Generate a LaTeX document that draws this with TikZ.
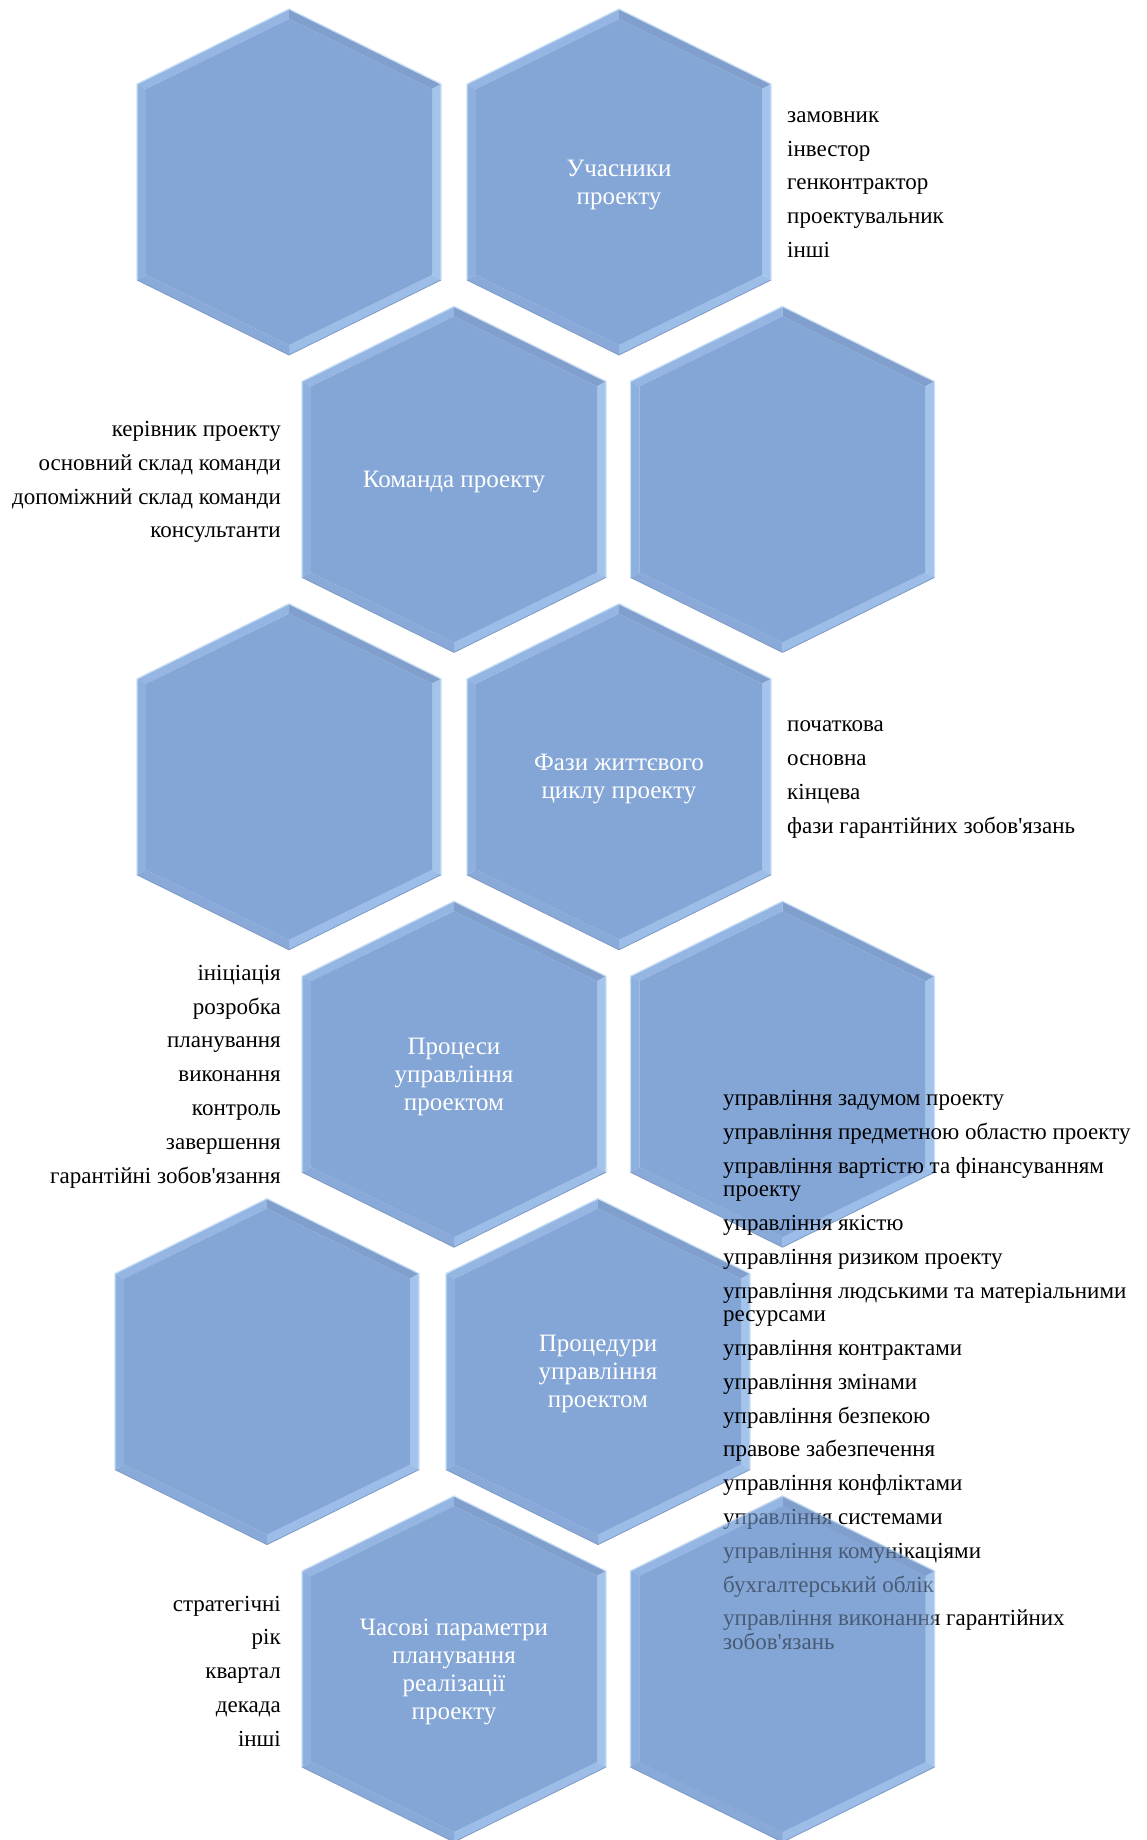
\documentclass[tikz,border=0pt]{standalone}
\usepackage{fontspec}
\setmainfont{Liberation Serif}[Ligatures=TeXOff]
\definecolor{hexbody}{HTML}{84A6D6}
\definecolor{bevA}{HTML}{95B6E2}
\definecolor{bevB}{HTML}{819FCD}
\definecolor{bevC}{HTML}{A4C4EC}
\definecolor{bevD}{HTML}{9BBDE8}
\definecolor{bevE}{HTML}{89AAD9}
\definecolor{bevF}{HTML}{8EB0DE}
\definecolor{rimlight}{HTML}{C9DFF5}
\definecolor{rimdark}{HTML}{7F99C2}
\newcommand\hexcell[3][]{%
  \begin{scope}[shift={(#2,#3)},#1]
    \fill[bevA] (0,-173) -- (-152,-98) -- (-143,-93) -- (0,-163) -- cycle;
    \fill[bevB] (0,-173) -- (152,-98) -- (143,-93) -- (0,-163) -- cycle;
    \fill[bevC] (152,-98) -- (152,98) -- (143,93) -- (143,-93) -- cycle;
    \fill[bevD] (152,98) -- (0,173) -- (0,163) -- (143,93) -- cycle;
    \fill[bevE] (0,173) -- (-152,98) -- (-143,93) -- (0,163) -- cycle;
    \fill[bevF] (-152,98) -- (-152,-98) -- (-143,-93) -- (-143,93) -- cycle;
    \fill[hexbody] (0,-163) -- (143,-93) -- (143,93) -- (0,163) -- (-143,93) -- (-143,-93) -- cycle;
    \draw[rimlight,line width=1.2pt,line join=round] (-152,98) -- (-152,-98) -- (0,-173) -- (152,-98) -- (152,98);
    \draw[rimdark,line width=0.8pt,line join=round] (-152,98) -- (0,173) -- (152,98);
  \end{scope}}
\begin{document}
\begin{tikzpicture}[x=1pt,y=-1pt,
  hextitle/.style={text=white,align=center,font=\fontsize{25}{28}\selectfont,inner sep=0pt},
  listright/.style={anchor=west,align=left,font=\fontsize{23}{33.8}\selectfont,inner sep=0pt},
  listleft/.style={anchor=east,align=right,font=\fontsize{23}{33.8}\selectfont,inner sep=0pt},
  biglist/.style={anchor=west,align=left,font=\fontsize{23}{23.5}\selectfont,inner sep=0pt}]
\useasboundingbox (0,0) rectangle (1147,1840);
\fill[white] (0,0) rectangle (1147,1840);

% row 1
\hexcell{289}{182}
\hexcell{619}{182}
\node[hextitle] (tB) at (619,185) {Учасники\\проекту};
\node[listright] (lB) at (787,184.5) {замовник\\інвестор\\генконтрактор\\проектувальник\\інші};

% row 2
\hexcell{454}{479.4}
\hexcell{782.5}{479.4}
\node[hextitle] (tC) at (454,482) {Команда проекту};
\node[listleft] (lC) at (281,482) {керівник проекту\\основний склад команди\\допоміжний склад команди\\консультанти};

% row 3
\hexcell{289}{776.8}
\hexcell{619}{776.8}
\node[hextitle] (tF) at (619,779.5) {Фази життєвого\\циклу проекту};
\node[listright] (lF) at (787,779.5) {початкова\\основна\\кінцева\\фази гарантійних зобов'язань};

% row 4
\hexcell{454}{1074.2}
\hexcell{782.5}{1074.2}
\node[hextitle] (tG) at (454,1077) {Процеси\\управління\\проектом};
\node[listleft] (lG) at (281,1076.5) {ініціація\\розробка\\планування\\виконання\\контроль\\завершення\\гарантійні зобов'язання};

% row 5
\hexcell{267}{1371.6}
\hexcell{598}{1371.6}
\node[hextitle] (tJ) at (598,1374) {Процедури\\управління\\проектом};

% row 6
\hexcell{454}{1669}
\hexcell{782.5}{1669}
\node[hextitle] (tK) at (454,1671.5) {Часові параметри\\планування\\реалізації\\проекту};
\node[listleft] (lK) at (281,1671) {стратегічні\\рік\\квартал\\декада\\інші};

\node[biglist] (lJ) at (723,1370) {управління задумом проекту\\[10.3pt]
управління предметною областю проекту\\[10.3pt]
управління вартістю та фінансуванням\\проекту\\[10.3pt]
управління якістю\\[10.3pt]
управління ризиком проекту\\[10.3pt]
управління людськими та матеріальними\\ресурсами\\[10.3pt]
управління контрактами\\[10.3pt]
управління змінами\\[10.3pt]
управління безпекою\\[10.3pt]
правове забезпечення\\[10.3pt]
управління конфліктами\\[10.3pt]
управління системами\\[10.3pt]
управління комунікаціями\\[10.3pt]
бухгалтерський облік\\[10.3pt]
управління виконання гарантійних\\зобов'язань};

% translucent overlay of the last hexagon over the list
\hexcell[opacity=0.55]{782.5}{1669}
\end{tikzpicture}
\end{document}
